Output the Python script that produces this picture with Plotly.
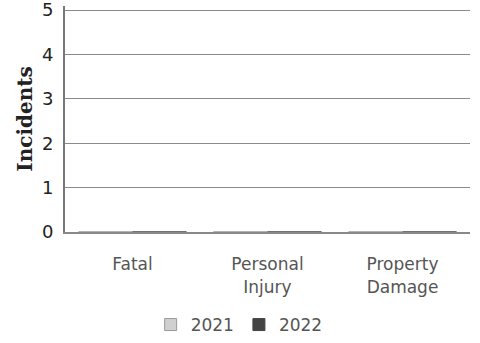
import plotly.graph_objects as go

categories = ["Fatal", "Personal<br>Injury", "Property<br>Damage"]
values_2021 = [0, 0, 0]
values_2022 = [0, 0, 0]
y_ticks = [0, 1, 2, 3, 4, 5]

fig = go.Figure()
fig.add_trace(go.Bar(x=categories, y=values_2021, name="2021",
                     marker=dict(color="#d0d0d0", line=dict(color="#999", width=1))))
fig.add_trace(go.Bar(x=categories, y=values_2022, name="2022",
                     marker=dict(color="#444444", line=dict(color="#444", width=1))))

fig.update_layout(
    width=480, height=343,
    margin=dict(l=65, r=10, t=6, b=111, autoexpand=False),
    plot_bgcolor="white", paper_bgcolor="white",
    barmode="group",
    font=dict(family="DejaVu Sans", color="#555"),
    legend=dict(orientation="h", x=0.43, xanchor="center", yref="container", y=0.0, yanchor="bottom",
                font=dict(size=17, color="#555"), itemwidth=30, tracegroupgap=0),
    xaxis=dict(showgrid=False, tickfont=dict(size=17, color="#555"),
               ticks="outside", ticklen=16, tickcolor="rgba(0,0,0,0)",
               showline=True, linecolor="#888", linewidth=2),
    yaxis=dict(range=[0, 5.09], tickvals=y_ticks, tickfont=dict(size=18, color="#222"),
               ticklabeloverflow="allow",
               showgrid=True, gridcolor="#8a8a8a", gridwidth=1,
               ticks="outside", ticklen=6, tickcolor="rgba(0,0,0,0)",
               showline=True, linecolor="#777", linewidth=2, zeroline=False,
               title=dict(text="<b>Incidents</b>", font=dict(family="DejaVu Serif", size=20, color="#222"),
                          standoff=4)),
)

fig.write_html("out.html")
